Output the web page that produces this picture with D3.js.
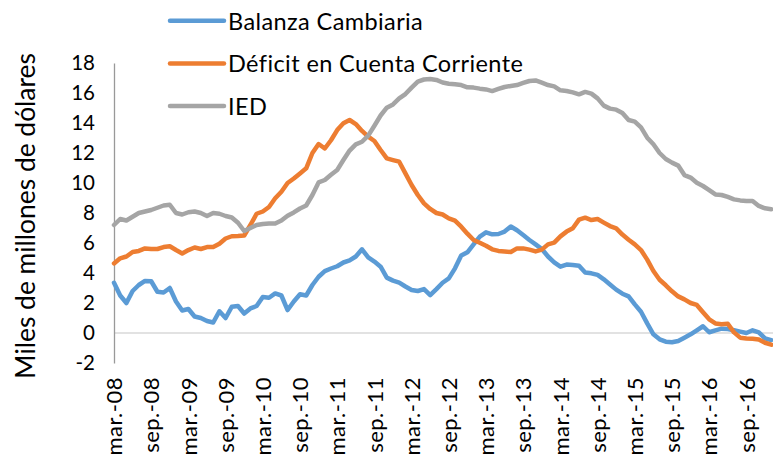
<!DOCTYPE html>
<html>
<head>
<meta charset="utf-8">
<script src="https://cdnjs.cloudflare.com/ajax/libs/d3/7.8.5/d3.min.js"></script>
<style>
  html, body { margin: 0; padding: 0; background: #fff; }
  svg { display: block; font-family: Lato, "Open Sans", sans-serif; }
</style>
</head>
<body>
<div id="chart"></div>
<script>
// monthly series, first value = mar.-08
var seriesNames = ["Balanza Cambiaria", "Déficit en Cuenta Corriente", "IED"];
var seriesColors = ["#5b9bd5", "#ed7d31", "#a5a5a5"];

var balanza = [3.35,2.5,2.0,2.8,3.2,3.47,3.45,2.75,2.7,3.0,2.1,1.5,1.6,1.1,1.0,0.8,0.7,1.45,
  1.0,1.75,1.8,1.3,1.64,1.8,2.4,2.35,2.64,2.5,1.53,2.1,2.58,2.5,3.2,3.75,4.13,4.3,
  4.45,4.7,4.84,5.1,5.58,5.04,4.76,4.42,3.69,3.49,3.36,3.1,2.87,2.8,2.93,2.53,2.93,3.35,
  3.64,4.31,5.16,5.38,5.91,6.42,6.71,6.58,6.6,6.76,7.1,6.85,6.53,6.2,5.91,5.6,5.1,4.71,
  4.42,4.56,4.53,4.49,4.04,3.98,3.87,3.58,3.24,2.89,2.62,2.44,1.91,1.42,0.64,-0.09,-0.42,-0.58,
  -0.62,-0.53,-0.31,-0.09,0.18,0.45,0.05,0.18,0.29,0.27,0.18,0.09,0.0,0.18,0.04,-0.36,-0.47];

var deficit = [4.64,4.98,5.1,5.4,5.47,5.64,5.6,5.6,5.73,5.78,5.53,5.3,5.53,5.7,5.6,5.73,5.73,5.95,
  6.3,6.45,6.47,6.5,7.2,7.95,8.1,8.4,8.98,9.42,10.0,10.3,10.64,10.98,12.0,12.6,12.3,12.85,
  13.53,13.98,14.2,13.93,13.47,13.09,12.8,12.2,11.64,11.53,11.42,10.64,9.87,9.2,8.64,8.27,8.0,7.9,
  7.64,7.49,7.09,6.62,6.2,6.02,5.82,5.58,5.47,5.44,5.4,5.64,5.64,5.56,5.44,5.56,5.91,6.02,
  6.44,6.76,6.98,7.56,7.69,7.53,7.6,7.36,7.13,6.98,6.56,6.22,5.91,5.53,4.89,4.13,3.55,3.18,
  2.78,2.44,2.24,2.0,1.87,1.38,0.91,0.64,0.58,0.62,0.04,-0.31,-0.36,-0.38,-0.44,-0.65,-0.78];

var ied = [7.2,7.6,7.5,7.75,8.0,8.1,8.2,8.35,8.5,8.55,8.0,7.9,8.05,8.1,8.0,7.8,8.0,7.95,
  7.8,7.7,7.35,6.8,7.0,7.2,7.27,7.3,7.3,7.5,7.82,8.04,8.3,8.5,9.2,10.04,10.2,10.55,
  10.87,11.53,12.16,12.58,12.75,13.16,13.82,14.5,15.02,15.24,15.64,15.93,16.36,16.76,16.9,16.93,16.87,16.7,
  16.62,16.58,16.53,16.38,16.36,16.29,16.24,16.13,16.27,16.4,16.47,16.53,16.67,16.8,16.84,16.69,16.53,16.44,
  16.18,16.13,16.04,15.91,16.07,15.96,15.64,15.16,14.96,14.89,14.67,14.2,14.09,13.71,13.02,12.58,12.0,11.6,
  11.36,11.16,10.53,10.36,10.02,9.8,9.53,9.24,9.2,9.07,8.91,8.84,8.8,8.8,8.47,8.31,8.25];

var tickLabels = ["mar.-08","sep.-08","mar.-09","sep.-09","mar.-10","sep.-10","mar.-11","sep.-11",
  "mar.-12","sep.-12","mar.-13","sep.-13","mar.-14","sep.-14","mar.-15","sep.-15","mar.-16","sep.-16","mar.-17"];
var yTicks = [-2,0,2,4,6,8,10,12,14,16,18];

var width = 773, height = 456;

var svg = d3.select("#chart").append("svg")
    .attr("width", width)
    .attr("height", height);

var x = d3.scaleLinear()
    .domain([0, (tickLabels.length - 1) * 6])
    .range([114, 114 + 108 * 6.2]);

var y = d3.scaleLinear()
    .domain([-2, 18])
    .range([363, 63]);

// zero line
svg.append("line")
    .attr("x1", x(0)).attr("x2", width)
    .attr("y1", y(0)).attr("y2", y(0))
    .attr("stroke", "#d9d9d9")
    .attr("stroke-width", 1.5);

// y axis
var yAxis = svg.append("g")
    .attr("transform", "translate(" + x(0) + ",0)")
    .call(d3.axisLeft(y).tickValues(yTicks).tickSize(0).tickSizeOuter(0).tickPadding(19)
      .tickFormat(function(d) { return String(d); }));
yAxis.select(".domain").attr("stroke", "#999").attr("stroke-width", 1.3);
yAxis.selectAll("text")
    .style("font-family", "Lato, sans-serif")
    .style("font-size", "20.5px")
    .attr("fill", "#000");

// x axis, labels turned upright
var xAxis = svg.append("g")
    .attr("transform", "translate(0," + y(-2) + ")")
    .call(d3.axisBottom(x).tickValues(d3.range(0, 109, 6))
      .tickFormat(function(d, i) { return tickLabels[i]; })
      .tickSize(0));
xAxis.select(".domain").remove();
xAxis.selectAll("text")
    .attr("transform", "rotate(-90)")
    .attr("x", -14)
    .attr("y", 0)
    .attr("dy", "0.35em")
    .attr("text-anchor", "end")
    .style("font-family", "Lato, sans-serif")
    .style("font-size", "22px")
    .style("letter-spacing", "0.5px")
    .attr("fill", "#000");

// y title
svg.append("text")
    .attr("transform", "translate(25,216) rotate(-90)")
    .attr("text-anchor", "middle")
    .attr("dominant-baseline", "central")
    .style("font-size", "26.4px")
    .text("Miles de millones de dólares");

// lines
var line = d3.line()
    .x(function(d, i) { return x(i); })
    .y(function(d) { return y(d); });

[balanza, deficit, ied].forEach(function(s, k) {
  svg.append("path")
    .datum(s)
    .attr("fill", "none")
    .attr("stroke", seriesColors[k])
    .attr("stroke-width", 4.5)
    .attr("stroke-linejoin", "round")
    .attr("stroke-linecap", "round")
    .attr("d", line);
});

// legend
var legend = svg.append("g")
  .selectAll("g")
  .data(seriesNames)
  .enter()
  .append("g")
    .attr("transform", function(d, i) { return "translate(170," + (20.7 + i * 42.7) + ")"; });

legend.append("line")
    .attr("x1", 0).attr("x2", 54)
    .attr("stroke", function(d, i) { return seriesColors[i]; })
    .attr("stroke-width", 4.5)
    .attr("stroke-linecap", "round");

legend.append("text")
    .attr("x", 58)
    .attr("dominant-baseline", "central")
    .style("font-size", "23.5px")
    .style("letter-spacing", "0.4px")
    .text(function(d) { return d; });
</script>
</body>
</html>
